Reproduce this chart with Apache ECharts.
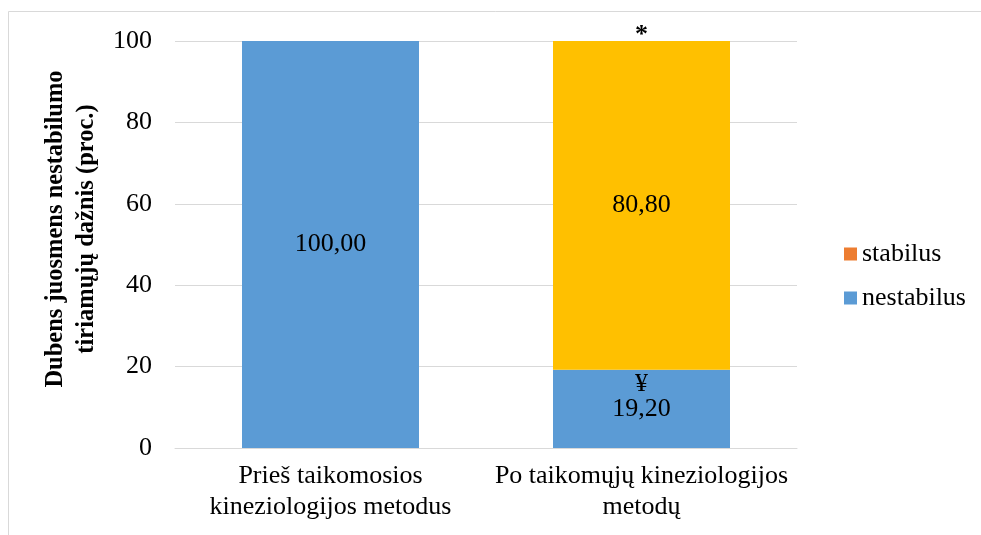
<!DOCTYPE html>
<html>
<head>
<meta charset="utf-8">
<script src="https://cdn.jsdelivr.net/npm/echarts@6/dist/echarts.min.js"></script>
<style>
  html, body { margin: 0; padding: 0; background: #fff; }
  #chart { width: 981px; height: 535px; }
</style>
</head>
<body>
<div id="chart"></div>
<script>
// Categories (before / after kinesiology methods)
var categories = ['Prieš taikomosios\nkineziologijos metodus', 'Po taikomųjų kineziologijos\nmetodų'];
// Frequency of lumbopelvic instability, percent
var nestabilus = [100.00, 19.20];
var stabilus = [null, 80.80];
// Y axis ticks
var yTicks = [0, 20, 40, 60, 80, 100];
// Significance markers
var markAfter = '*';
var markNestabilus = '¥';

var FONT = '"Liberation Serif", "Times New Roman", serif';

function fmt(v) {
  return v.toFixed(2).replace('.', ',');
}

var chart = echarts.init(document.getElementById('chart'), null, { renderer: 'canvas' });

chart.setOption({
  animation: false,
  backgroundColor: '#ffffff',
  textStyle: { fontFamily: FONT },
  graphic: [
    {
      type: 'rect',
      shape: { x: 8.5, y: 11.5, width: 1000, height: 600 },
      style: { fill: 'none', stroke: '#D9D9D9', lineWidth: 1 },
      silent: true
    },
    {
      type: 'text',
      x: 71,
      y: 229,
      rotation: Math.PI / 2,
      style: {
        text: 'Dubens juosmens nestabilumo\ntiriamųjų dažnis (proc.)',
        font: 'bold 24.5px ' + FONT,
        fill: '#000',
        align: 'center',
        verticalAlign: 'middle',
        lineHeight: 31
      }
    }
  ],
  grid: { left: 175, right: 184, top: 41, bottom: 87, containLabel: false },
  legend: {
    orient: 'vertical',
    left: 839,
    top: 236,
    itemWidth: 13,
    itemHeight: 13,
    itemGap: 18,
    icon: 'rect',
    data: ['stabilus', 'nestabilus'],
    textStyle: { fontFamily: FONT, fontSize: 26, color: '#000', lineHeight: 26 }
  },
  xAxis: {
    type: 'category',
    data: categories,
    axisLine: { show: true, lineStyle: { color: '#D9D9D9', width: 1 } },
    axisTick: { show: false },
    axisLabel: {
      fontFamily: FONT, fontSize: 26, color: '#000', lineHeight: 31, margin: 13, interval: 0
    }
  },
  yAxis: {
    type: 'value',
    min: yTicks[0],
    max: yTicks[yTicks.length - 1],
    interval: yTicks[1] - yTicks[0],
    axisLine: { show: false },
    axisTick: { show: false },
    splitLine: { lineStyle: { color: '#D9D9D9', width: 1 } },
    axisLabel: { fontFamily: FONT, fontSize: 26, color: '#000', margin: 23 }
  },
  series: [
    {
      name: 'nestabilus',
      type: 'bar',
      stack: 'total',
      barWidth: 177,
      data: nestabilus,
      itemStyle: { color: '#5B9BD5' },
      label: {
        show: true,
        position: 'inside',
        fontFamily: FONT,
        fontSize: 26,
        color: '#000',
        formatter: function (p) { return fmt(p.value); }
      },
      markPoint: {
        symbol: 'circle',
        symbolSize: 1,
        itemStyle: { color: 'rgba(0,0,0,0)' },
        label: {
          show: true,
          position: 'inside',
          offset: [0, 14],
          fontFamily: FONT,
          fontSize: 26,
          color: '#000',
          formatter: function () { return markNestabilus; }
        },
        data: [{ coord: [1, nestabilus[1]] }]
      }
    },
    {
      name: 'stabilus',
      type: 'bar',
      stack: 'total',
      barWidth: 177,
      data: stabilus.map(function (v) {
        return v == null ? '-' : { value: v, itemStyle: { color: '#FFC000' } };
      }),
      itemStyle: { color: '#ED7D31' },
      label: {
        show: true,
        position: 'inside',
        fontFamily: FONT,
        fontSize: 26,
        color: '#000',
        formatter: function (p) { return fmt(p.value); }
      },
      markPoint: {
        symbol: 'circle',
        symbolSize: 1,
        itemStyle: { color: 'rgba(0,0,0,0)' },
        label: {
          show: true,
          position: 'inside',
          offset: [0, -6],
          fontFamily: FONT,
          fontSize: 26,
          fontWeight: 'bold',
          color: '#000',
          formatter: function () { return markAfter; }
        },
        data: [{ coord: [1, 100] }]
      }
    }
  ]
});
</script>
</body>
</html>
